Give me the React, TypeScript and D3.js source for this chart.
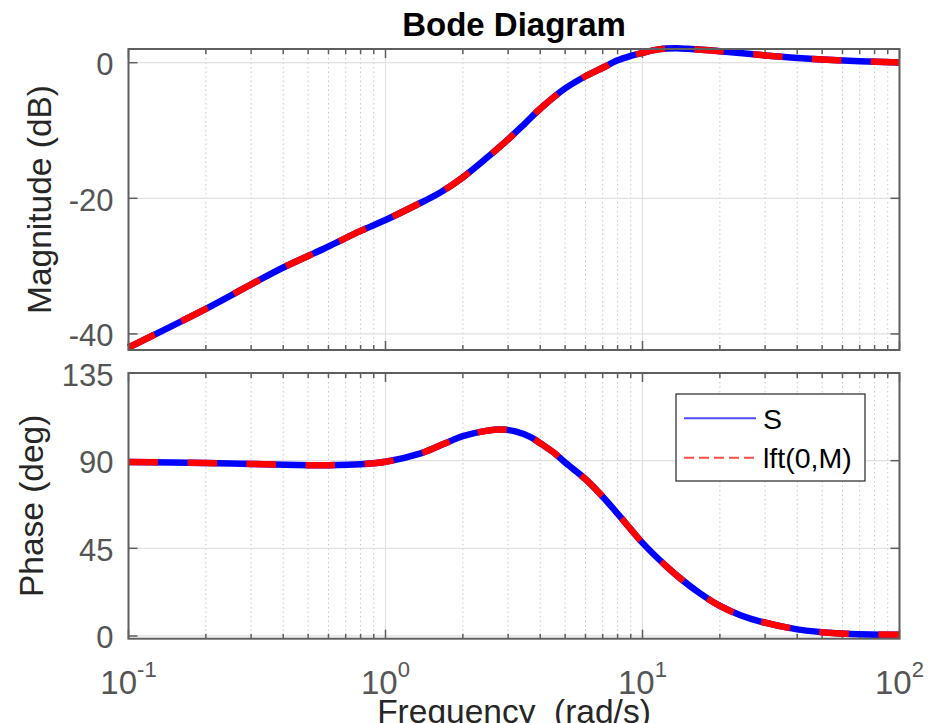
import React from "react";
import * as d3 from "d3";

// magnitude response (rad/s, dB)
const magFreq = [0.1, 0.2, 0.3, 0.4, 0.5, 0.6, 0.8, 1, 1.3, 1.64, 2, 2.5, 3, 3.5, 4, 5, 6, 7, 8, 9, 10, 11.7, 13.5, 15, 20, 30, 40, 50, 70, 100];
const magDb = [-42.0, -36.3, -32.7, -30.2, -28.5, -27.1, -24.8, -23.2, -21.1, -19.1, -16.9, -13.9, -11.3, -8.9, -6.8, -3.8, -2.0, -0.75, 0.35, 1.0, 1.45, 2.0, 2.12, 2.05, 1.7, 1.07, 0.7, 0.47, 0.22, 0.03];

// phase response (rad/s, deg)
const phaseFreq = [0.1, 0.2, 0.3, 0.5, 0.6, 0.8, 1, 1.37, 1.7, 2, 2.46, 2.85, 3.2, 3.67, 4, 4.5, 5, 6, 7, 8, 9, 10, 12.3, 14.1, 16.8, 20, 23.9, 28.8, 40, 59, 100];
const phaseDeg = [89.3, 88.8, 88.3, 87.7, 87.7, 88.2, 89.4, 93.7, 98.8, 102.6, 105.3, 106.0, 105.0, 102.1, 98.9, 94.3, 89.0, 80.5, 71.5, 62.8, 54.8, 47.8, 36.1, 29.3, 21.7, 15.4, 10.8, 7.4, 3.4, 1.3, 0.6];

const magTicks = [-40, -20, 0];
const phaseTicks = [0, 45, 90, 135];
const decadeExps = [-1, 0, 1, 2];
const seriesNames = ["S", "lft(0,M)"];

const W = 928;
const H = 723;
const left = 128.5;
const right = 899.5;
const magTop = 49;
const magBottom = 350;
const phTop = 373;
const phBottom = 638.7;

const font = "'Liberation Sans', Arial, Helvetica, sans-serif";
const axisColor = "#5f5f5f";
const tickText = "#555555";
const labelColor = "#262626";

const x = d3.scaleLog().domain([0.1, 100]).range([left, right]);
const yMag = d3.scaleLinear().domain([-42.37, 2.02]).range([magBottom, magTop]);
const yPh = d3.scaleLinear().domain([-1.4, 135]).range([phBottom, phTop]);

const minorFreqs: number[] = [];
decadeExps.slice(0, 3).forEach((e) => {
  for (let k = 2; k <= 9; k++) minorFreqs.push(k * Math.pow(10, e));
});

function Panel({
  y,
  top,
  bottom,
  ticks,
  freq,
  vals,
}: {
  y: d3.ScaleLinear<number, number>;
  top: number;
  bottom: number;
  ticks: number[];
  freq: number[];
  vals: number[];
}) {
  const line = d3
    .line<number>()
    .x((_, i) => x(freq[i]))
    .y((v) => y(v))
    .curve(d3.curveCatmullRom.alpha(0.5));
  const path = line(vals) || "";
  return (
    <g>
      {/* minor grid */}
      {minorFreqs.map((f) => (
        <line key={"mg" + f} x1={x(f)} x2={x(f)} y1={top} y2={bottom} stroke="#c8c8c8" strokeWidth={1} strokeDasharray="1.5 3" />
      ))}
      {/* major grid */}
      {decadeExps.map((e) => (
        <line key={"Mg" + e} x1={x(Math.pow(10, e))} x2={x(Math.pow(10, e))} y1={top} y2={bottom} stroke="#e1e1e1" strokeWidth={1.2} />
      ))}
      {ticks.map((t) => (
        <line key={"hg" + t} x1={left} x2={right} y1={y(t)} y2={y(t)} stroke="#e1e1e1" strokeWidth={1.2} />
      ))}
      {/* ticks */}
      {minorFreqs.map((f) => (
        <g key={"mt" + f}>
          <line x1={x(f)} x2={x(f)} y1={top} y2={top + 5} stroke={axisColor} strokeWidth={1.5} />
          <line x1={x(f)} x2={x(f)} y1={bottom} y2={bottom - 5} stroke={axisColor} strokeWidth={1.5} />
        </g>
      ))}
      {decadeExps.map((e) => (
        <g key={"Mt" + e}>
          <line x1={x(Math.pow(10, e))} x2={x(Math.pow(10, e))} y1={top} y2={top + 9} stroke={axisColor} strokeWidth={1.5} />
          <line x1={x(Math.pow(10, e))} x2={x(Math.pow(10, e))} y1={bottom} y2={bottom - 9} stroke={axisColor} strokeWidth={1.5} />
        </g>
      ))}
      {ticks.map((t) => (
        <g key={"yt" + t}>
          <line x1={left} x2={left + 9} y1={y(t)} y2={y(t)} stroke={axisColor} strokeWidth={1.5} />
          <line x1={right} x2={right - 9} y1={y(t)} y2={y(t)} stroke={axisColor} strokeWidth={1.5} />
          <text x={113.5} y={y(t) + 12.5} textAnchor="end" fontSize={31} fill={tickText} fontFamily={font}>
            {t}
          </text>
        </g>
      ))}
      {/* curves: S solid blue, lft(0,M) dashed red on top */}
      <path d={path} fill="none" stroke="#0000ff" strokeWidth={6.5} />
      <path d={path} fill="none" stroke="#ff0000" strokeWidth={6.5} strokeDasharray="29.5 29.5" />
      <rect x={left} y={top} width={right - left} height={bottom - top} fill="none" stroke={axisColor} strokeWidth={2} />
    </g>
  );
}

export default function App() {
  return (
    <svg width={W} height={H} style={{ position: "absolute", left: 0, top: 0, background: "#fff" }} fontFamily={font}>
      <rect x={0} y={0} width={W} height={H} fill="#fff" />
      <text x={(left + right) / 2} y={36} textAnchor="middle" fontSize={33} fontWeight="bold" fill="#000">
        Bode Diagram
      </text>
      <Panel y={yMag} top={magTop} bottom={magBottom} ticks={magTicks} freq={magFreq} vals={magDb} />
      <Panel y={yPh} top={phTop} bottom={phBottom} ticks={phaseTicks} freq={phaseFreq} vals={phaseDeg} />

      <text transform={`translate(51,${(magTop + magBottom) / 2}) rotate(-90)`} textAnchor="middle" fontSize={33.5} fill={labelColor}>
        Magnitude (dB)
      </text>
      <text transform={`translate(43,${(phTop + phBottom) / 2}) rotate(-90)`} textAnchor="middle" fontSize={33.5} fill={labelColor}>
        Phase (deg)
      </text>

      {decadeExps.map((e) => (
        <text key={"xl" + e} x={x(Math.pow(10, e))} y={694} textAnchor="middle" fill={tickText}>
          <tspan fontSize={33}>10</tspan>
          <tspan fontSize={22} dy={-17}>
            {e}
          </tspan>
        </text>
      ))}
      <text x={(left + right) / 2} y={723} textAnchor="middle" fontSize={33.5} fill={labelColor} style={{ whiteSpace: "pre" }}>
        {"Frequency  (rad/s)"}
      </text>

      {/* legend */}
      <g>
        <rect x={676} y={394} width={189} height={87} fill="#fff" stroke="#262626" strokeWidth={1.2} />
        <line x1={684} x2={756} y1={418.3} y2={418.3} stroke="#4d4dff" strokeWidth={2} />
        <line x1={684} x2={756} y1={457.7} y2={457.7} stroke="#ff4d4d" strokeWidth={2} strokeDasharray="10 5" />
        <text x={763} y={428.5} fontSize={28.5} fill="#000">
          {seriesNames[0]}
        </text>
        <text x={763} y={468} fontSize={28.5} fill="#000">
          {seriesNames[1]}
        </text>
      </g>
    </svg>
  );
}
